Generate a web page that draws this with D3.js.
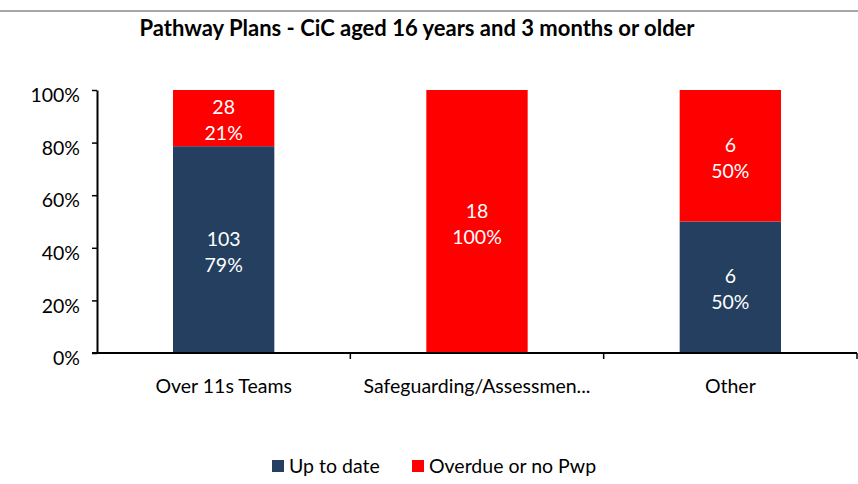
<!DOCTYPE html>
<meta charset="utf-8">
<script src="https://d3js.org/d3.v7.min.js"></script>
<style>
  body { margin: 0; background: #fff; }
  text { font-family: Lato, "Open Sans", sans-serif; }
</style>
<div id="my_dataviz"></div>
<script>
// data
var categories = ["Over 11s Teams", "Safeguarding/Assessmen...", "Other"];
var upToDate = [103, 0, 6];
var overdue = [28, 18, 6];
var seriesNames = ["Up to date", "Overdue or no Pwp"];
var colors = ["#243f60", "#ff0000"];
var yTicks = [0, 0.2, 0.4, 0.6, 0.8, 1];

var W = 858, H = 484;
var margin = {top: 90, right: 1, bottom: 131, left: 97},
    width = W - margin.left - margin.right,
    height = H - margin.top - margin.bottom;
var fs = "19.5px";

var svg = d3.select("#my_dataviz")
  .append("svg")
    .attr("width", W)
    .attr("height", H);

// grey rule at top
svg.append("rect")
  .attr("x", 0).attr("y", 10)
  .attr("width", W).attr("height", 2)
  .attr("fill", "#a6a6a6");

svg.append("text")
  .attr("x", 417)
  .attr("y", 36)
  .attr("text-anchor", "middle")
  .attr("font-size", "22px")
  .attr("font-weight", "bold")
  .text("Pathway Plans - CiC aged 16 years and 3 months or older");

var g = svg.append("g")
  .attr("transform", "translate(" + margin.left + "," + margin.top + ")");

var x = d3.scaleBand()
  .domain(categories)
  .range([0, width])
  .paddingInner(0.6)
  .paddingOuter(0.3);

var y = d3.scaleLinear()
  .domain([0, 1])
  .range([height, 0]);

var rows = categories.map(function(c, i) {
  var total = upToDate[i] + overdue[i];
  return {cat: c, a: upToDate[i], b: overdue[i], pa: upToDate[i] / total, pb: overdue[i] / total};
});

// bars
rows.forEach(function(d) {
  var bx = x(d.cat), bw = x.bandwidth();
  var segs = [
    {v: d.a, p: d.pa, y0: 0, y1: d.pa, c: colors[0]},
    {v: d.b, p: d.pb, y0: d.pa, y1: 1, c: colors[1]}
  ];
  segs.forEach(function(s) {
    if (s.v === 0) return;
    g.append("rect")
      .attr("x", bx)
      .attr("y", y(s.y1))
      .attr("width", bw)
      .attr("height", y(s.y0) - y(s.y1))
      .attr("fill", s.c);
    var cy = (y(s.y0) + y(s.y1)) / 2;
    var t = g.append("text")
      .attr("text-anchor", "middle")
      .attr("fill", "#fff")
      .attr("font-size", fs);
    t.append("tspan").attr("x", bx + bw / 2).attr("y", cy - 4).text(s.v);
    t.append("tspan").attr("x", bx + bw / 2).attr("y", cy + 22).text(Math.round(s.p * 100) + "%");
  });
});

// y axis
var yAxis = g.append("g")
  .call(d3.axisLeft(y).tickValues(yTicks).tickFormat(d3.format(".0%")).tickSize(5).tickSizeOuter(0));
yAxis.select(".domain").attr("stroke", "#000").attr("stroke-width", 2);
yAxis.selectAll(".tick line").attr("stroke", "#000").attr("stroke-width", 1.5);
yAxis.selectAll(".tick text")
  .attr("x", -17)
  .attr("dy", "0.6em")
  .attr("font-size", fs)
  .attr("font-family", "Lato, sans-serif")
  .attr("fill", "#000");

// x axis with boundary ticks between categories
var xg = g.append("g").attr("transform", "translate(0," + height + ")");
xg.append("line")
  .attr("x1", -5).attr("x2", width)
  .attr("stroke", "#000").attr("stroke-width", 2);
var step = width / categories.length;
d3.range(1, categories.length + 1).forEach(function(i) {
  xg.append("line")
    .attr("x1", i * step).attr("x2", i * step)
    .attr("y1", 0).attr("y2", 6)
    .attr("stroke", "#000").attr("stroke-width", 1.5);
});
xg.selectAll("text.cat")
  .data(categories)
  .enter().append("text")
  .attr("class", "cat")
  .attr("x", function(d) { return x(d) + x.bandwidth() / 2; })
  .attr("y", 40)
  .attr("text-anchor", "middle")
  .attr("font-size", fs)
  .text(function(d) { return d; });

// legend
var legX = [272, 412];
seriesNames.forEach(function(n, i) {
  svg.append("rect")
    .attr("x", legX[i]).attr("y", 460)
    .attr("width", 12).attr("height", 12)
    .attr("fill", colors[i]);
  svg.append("text")
    .attr("x", legX[i] + 17).attr("y", 473)
    .attr("font-size", fs)
    .text(n);
});
</script>
